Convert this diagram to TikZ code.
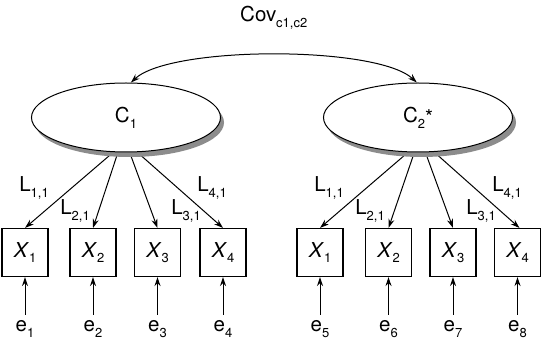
\documentclass[tikz,border=0pt]{standalone}
\usepackage{fontspec}
\setmainfont{TeX Gyre Heros}
\usetikzlibrary{arrows.meta,shadows,backgrounds,shapes.geometric}
\newcommand\sbs[1]{\raisebox{-0.28em}{\fontsize{13}{13}\selectfont #1}}
\begin{document}
\begin{tikzpicture}[x=1pt,y=-1pt,
  every node/.style={font=\fontsize{20.5}{22}\selectfont},
  latent/.style={ellipse, draw, line width=1pt, fill=white,
    minimum width=189pt, minimum height=69pt, inner sep=0pt,
    drop shadow={shadow xshift=3.5pt,shadow yshift=-5pt,fill=black!45,opacity=1}},
  obs/.style={draw, line width=1.1pt, minimum width=46pt, minimum height=48pt, inner sep=0pt},
  lbl/.style={inner sep=0pt},
  arr/.style={-{Stealth[length=9pt,width=6pt]}, line width=1pt},
  dblarr/.style={{Stealth[length=9pt,width=6pt]}-{Stealth[length=9pt,width=6pt]}, line width=1pt},
]
\useasboundingbox (0,0) rectangle (541,344);

% latent variables
\node[latent] (C1) at (126,117.5) {C\sbs{1}};
\node[latent] (C2) at (418,117.5) {C\sbs{2}\raisebox{-0.12em}{*}};

% covariance
\node[lbl, anchor=base west] (cov) at (240,22) {Cov\sbs{c1,c2}};
\draw[dblarr] (C1.82) .. controls +(40,-37) and +(-40,-37) .. (C2.92);

% observed variables
\foreach \n/\x/\i in {X1/25/1, X2/93/2, X3/157.5/3, X4/223/4,
                      X5/320/1, X6/388.5/2, X7/453/3, X8/517.5/4}{
  \node[obs] (\n) at (\x,252.5) {\textit{X}\sbs{\i}};
}

% errors
\foreach \k/\x in {1/25, 2/93, 3/157.5, 4/223, 5/320, 6/388.5, 7/453, 8/517.5}{
  \node[lbl, anchor=base] (e\k) at (\x,332) {e\sbs{\k}};
  \draw[arr, shorten <=6pt] (X\k.south |- e\k.north) -- (X\k.south);
}

% loadings
\begin{scope}[on background layer]
  \draw[arr] (C1.250) -- (X1.north);
  \draw[arr] (C1.257) -- (X2.north);
  \draw[arr] (C1.276) -- (X3.north);
  \draw[arr] (C1.288) -- (X4.north);
  \draw[arr] (C2.254) -- (X5.north);
  \draw[arr] (C2.264) -- (X6.north);
  \draw[arr] (C2.282) -- (X7.north);
  \draw[arr] (C2.295) -- ([xshift=2pt]X8.north);
\end{scope}

% loading labels
\node[lbl] (l11a) at (34,188) {L\sbs{1,1}};
\node[lbl] (l21a) at (75,211) {L\sbs{2,1}};
\node[lbl] (l31a) at (186,211) {L\sbs{3,1}};
\node[lbl] (l41a) at (212,188) {L\sbs{4,1}};
\node[lbl] (l11b) at (329,188) {L\sbs{1,1}};
\node[lbl] (l21b) at (370,211) {L\sbs{2,1}};
\node[lbl] (l31b) at (481,211) {L\sbs{3,1}};
\node[lbl] (l41b) at (507,188) {L\sbs{4,1}};
\end{tikzpicture}
\end{document}
